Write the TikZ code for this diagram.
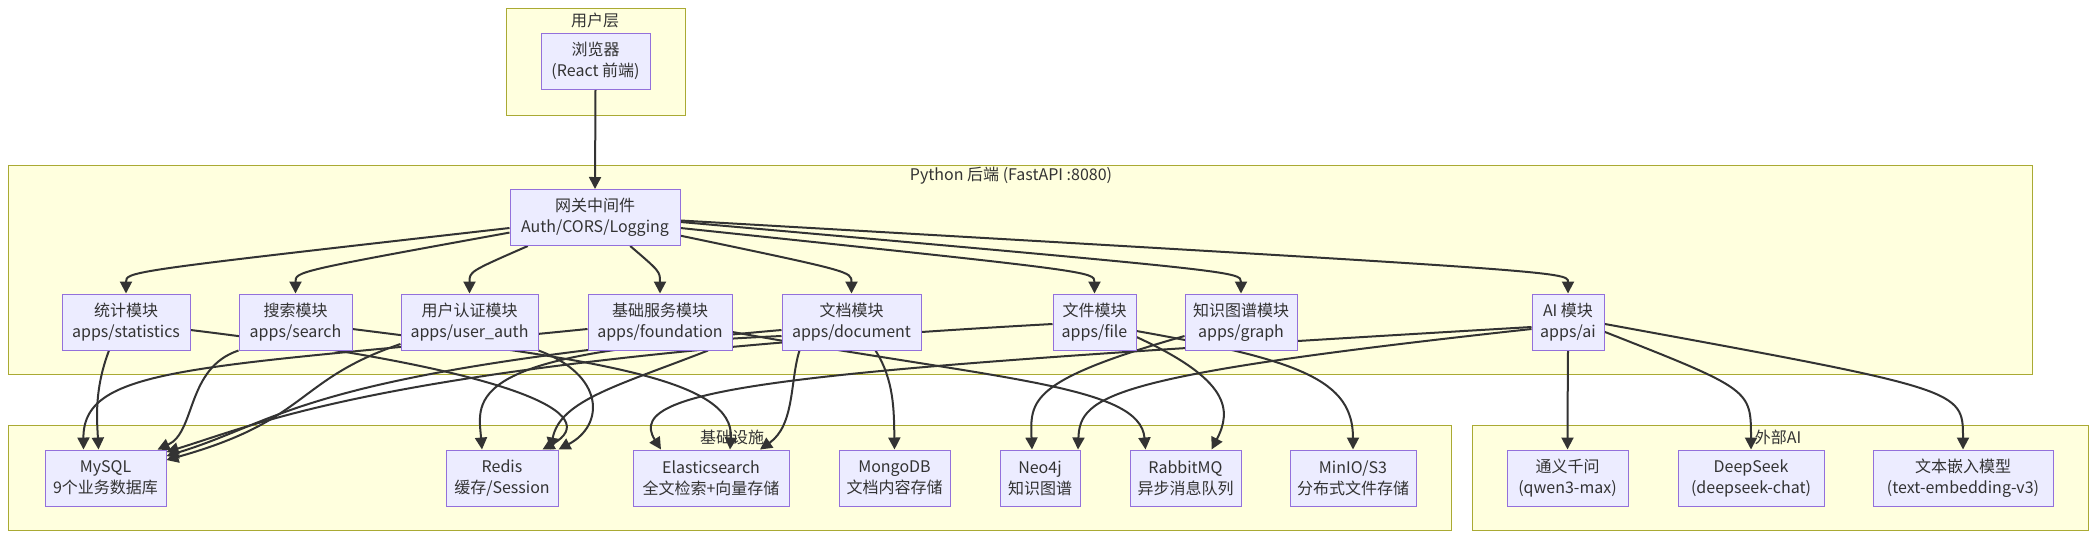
\documentclass[tikz,border=0pt]{standalone}
\usepackage{fontspec}
\setmainfont{Noto Sans CJK SC}
\usetikzlibrary{arrows.meta,calc}

\definecolor{boxfill}{HTML}{ECECFF}
\definecolor{boxline}{HTML}{9370DB}
\definecolor{grpfill}{HTML}{FFFFDE}
\definecolor{grpline}{HTML}{AAAA33}
\definecolor{ink}{HTML}{333333}

\pgfdeclarelayer{grplayer}
\pgfdeclarelayer{wirelayer}
\pgfsetlayers{grplayer,wirelayer,main}

\tikzset{
  svc/.style={draw=boxline, fill=boxfill, line width=0.5pt, align=center,
    minimum height=28pt, inner sep=0pt, text=ink,
    font=\fontsize{8}{10.5}\selectfont},
  grp/.style={draw=grpline, fill=grpfill, line width=0.5pt},
  grptitle/.style={text=ink, inner sep=0pt, font=\fontsize{8}{10}\selectfont},
  flow/.style={draw=ink, line width=1pt, -{Triangle[length=6pt,width=6pt]}}
}

\begin{document}
\begin{tikzpicture}[x=0.5pt, y=-0.5pt]
  \useasboundingbox (0,0) rectangle (2095,538);

  % Groups (drawn underneath everything)
  \begin{pgfonlayer}{grplayer}
    \draw[grp] (506,8) rectangle (685,115);
    \draw[grp] (8,165) rectangle (2032,374);
    \draw[grp] (8,425) rectangle (1451,530);
    \draw[grp] (1472,425) rectangle (2088,530);
    \node[grptitle] (tuser) at (595,20) {用户层};
    \node[grptitle] (tback) at (1011,176) {Python 后端 (FastAPI :8080)};
    \node[grptitle] (tinfra) at (732,437) {基础设施};
    \node[grptitle] (text) at (1778,437) {外部AI};
  \end{pgfonlayer}

  % User layer and gateway
  \node[svc, minimum width=54.5pt] (browser) at (595.5,61) {浏览器\\(React 前端)};
  \node[svc, minimum width=85pt] (gw) at (595,217.5) {网关中间件\\Auth/CORS/Logging};

  % Backend modules
  \node[svc, minimum width=64pt]   (stats)  at (126,322)    {统计模块\\apps/statistics};
  \node[svc, minimum width=56.5pt] (search) at (295.5,322)  {搜索模块\\apps/search};
  \node[svc, minimum width=68.5pt] (uauth)  at (469.5,322)  {用户认证模块\\apps/user\_auth};
  \node[svc, minimum width=72pt]   (found)  at (660,322)    {基础服务模块\\apps/foundation};
  \node[svc, minimum width=69.5pt] (doc)    at (851.5,322)  {文档模块\\apps/document};
  \node[svc, minimum width=41.5pt] (file)   at (1094.5,322) {文件模块\\apps/file};
  \node[svc, minimum width=56pt]   (graph)  at (1241,322)   {知识图谱模块\\apps/graph};
  \node[svc, minimum width=36pt]   (ai)     at (1568,322)   {AI 模块\\apps/ai};

  % Infrastructure
  \node[svc, minimum width=60.5pt] (mysql)  at (105.5,478)  {MySQL\\9个业务数据库};
  \node[svc, minimum width=56pt]   (redis)  at (502,478)    {Redis\\缓存/Session};
  \node[svc, minimum width=78pt]   (es)     at (711,478)    {Elasticsearch\\全文检索+向量存储};
  \node[svc, minimum width=55.5pt] (mongo)  at (894.5,478)  {MongoDB\\文档内容存储};
  \node[svc, minimum width=40pt]   (neo)    at (1040,478)   {Neo4j\\知识图谱};
  \node[svc, minimum width=55.5pt] (rabbit) at (1185.5,478) {RabbitMQ\\异步消息队列};
  \node[svc, minimum width=63pt]   (minio)  at (1353,478)   {MinIO/S3\\分布式文件存储};

  % External AI
  \node[svc, minimum width=60.5pt] (qwen)  at (1567.5,478) {通义千问\\(qwen3-max)};
  \node[svc, minimum width=73pt]   (deep)  at (1751,478)   {DeepSeek\\(deepseek-chat)};
  \node[svc, minimum width=90pt]   (embed) at (1963,478)   {文本嵌入模型\\(text-embedding-v3)};

  \begin{pgfonlayer}{wirelayer}
    % Request path
    \draw[flow] (browser.south) -- (gw.north);
    \foreach \m/\a in {stats/187, search/190, uauth/203, found/321,
                       doc/348, file/353, graph/357, ai/358}
      \draw[flow] (gw.\a) .. controls ($(\m.north)+(0,-22)$) .. (\m.north);

    % Modules to storage
    \draw[flow] ($(stats.south)+(-17,0)$) .. controls (94,390) and (97,420) .. ($(mysql.north)+(-7,0)$);
    \draw[flow] ($(stats.east)+(0,8)$) .. controls (520,370) and (605,415) .. ($(redis.north east)+(-16,0)$);
    \draw[flow] (search.south west) .. controls (186,368) and (196,432) .. ($(mysql.north)+(52,0)$);
    \draw[flow] ($(search.east)+(0,7)$) .. controls (600,360) and (735,380) .. ($(es.north)+(19,0)$);
    \draw[flow] ($(uauth.west)+(0,22)$) .. controls (295,380) and (310,420) .. ($(mysql.east)+(0,-18)$);
    \draw[flow] (uauth.south east) .. controls (605,375) and (605,425) .. (redis.north east);
    \draw[flow] ($(found.west)+(0,7)$) .. controls (200,368) and (83,365) .. ($(mysql.north)+(-22,0)$);
    \draw[flow] ($(found.south)+(48,0)$) .. controls (620,385) and (560,400) .. ($(redis.north east)+(-8,0)$);
    \draw[flow] ($(found.east)+(0,10)$) .. controls (1000,380) and (1140,385) .. ($(rabbit.north)+(-40,0)$);
    \draw[flow] ($(doc.west)+(0,8)$) .. controls (300,372) and (285,420) .. ($(mysql.east)+(0,-22)$);
    \draw[flow] ($(doc.west)+(0,14)$) .. controls (460,350) and (478,400) .. ($(redis.north)+(-20,0)$);
    \draw[flow] ($(doc.south)+(-52,0)$) .. controls (790,380) and (795,425) .. ($(es.north)+(49,0)$);
    \draw[flow] ($(doc.south)+(24,0)$) .. controls (894,380) and (894,410) .. (mongo.north);
    \draw[flow] ($(file.west)+(0,2)$) .. controls (400,360) and (270,420) .. ($(mysql.east)+(0,-26)$);
    \draw[flow] ($(file.east)+(0,15)$) .. controls (1230,380) and (1232,410) .. ($(rabbit.north)+(26,0)$);
    \draw[flow] ($(file.east)+(0,9)$) .. controls (1300,360) and (1353,380) .. (minio.north);
    \draw[flow] ($(graph.west)+(0,14)$) .. controls (1030,380) and (1030,400) .. ($(neo.north)+(-8,0)$);
    \draw[flow] ($(ai.west)+(0,7)$) .. controls (1110,375) and (1080,395) .. ($(neo.north)+(38,0)$);
    \draw[flow] ($(ai.west)+(0,5)$) .. controls (800,370) and (620,385) .. ($(es.north)+(-50,0)$);

    % AI module to external models
    \foreach \t/\a/\r in {qwen/270/22, deep/345/60, embed/357/60}
      \draw[flow] (ai.\a) .. controls ($(\t.north)+(0,-\r)$) .. (\t.north);
  \end{pgfonlayer}
\end{tikzpicture}
\end{document}
